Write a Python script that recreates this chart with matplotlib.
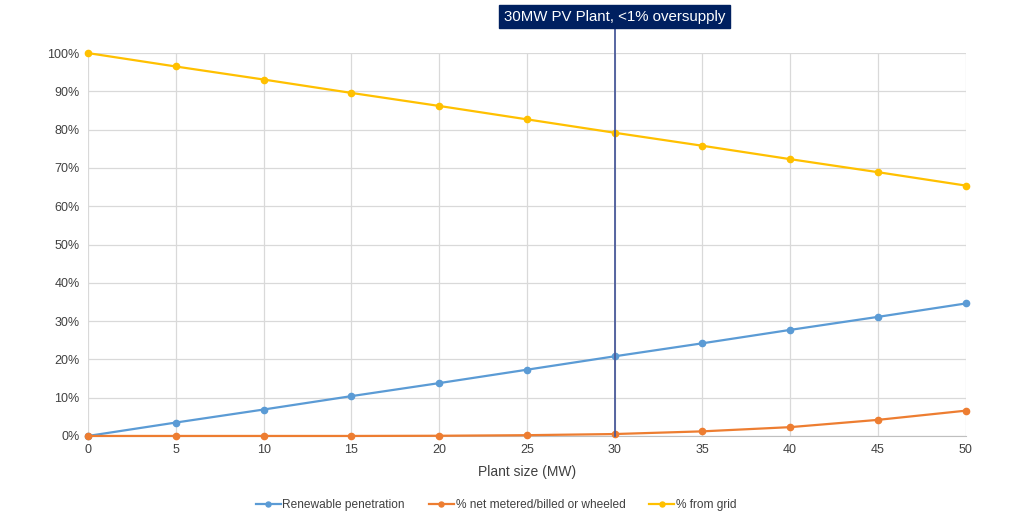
import matplotlib.pyplot as plt
from matplotlib.ticker import PercentFormatter

plt.rcParams['font.family'] = ['Liberation Sans', 'DejaVu Sans']

plant_size = [0, 5, 10, 15, 20, 25, 30, 35, 40, 45, 50]
renewable = [0.0, 3.5, 6.9, 10.4, 13.8, 17.3, 20.8, 24.2, 27.7, 31.1, 34.6]
net_metered = [0.0, 0.0, 0.0, 0.0, 0.05, 0.2, 0.5, 1.2, 2.3, 4.2, 6.6]
from_grid = [100.0, 96.5, 93.1, 89.6, 86.2, 82.7, 79.2, 75.8, 72.3, 68.9, 65.4]
marker_x = 30
marker_label = "30MW PV Plant, <1% oversupply"

fig = plt.figure(figsize=(10.24, 5.31), dpi=100)
ax = fig.add_axes([0.086, 0.179, 0.857, 0.721])

ax.plot(plant_size, renewable, color='#5b9bd5', lw=1.6, marker='o', ms=4.5,
        label='Renewable penetration', zorder=3, clip_on=False)
ax.plot(plant_size, net_metered, color='#ed7d31', lw=1.6, marker='o', ms=4.5,
        label='% net metered/billed or wheeled', zorder=3, clip_on=False)
ax.plot(plant_size, from_grid, color='#ffc000', lw=1.6, marker='o', ms=4.5,
        label='% from grid', zorder=3, clip_on=False)

# annotation line and label box
ax.plot([marker_x, marker_x], [0, 106.5], color='#4a5a9a', lw=1.3,
        clip_on=False, zorder=4)
ax.text(marker_x, 109.5, marker_label, ha='center', va='center', fontsize=10.8,
        color='white', zorder=5,
        bbox=dict(boxstyle='square,pad=0.3', fc='#002060', ec='#002060'))

ax.set_xlim(0, 50)
ax.set_ylim(0, 100)
ax.set_xticks(plant_size)
ax.set_yticks(range(0, 101, 10))
ax.yaxis.set_major_formatter(PercentFormatter(decimals=0))
ax.grid(True, color='#d9d9d9', lw=0.9)
ax.set_axisbelow(True)
for s in ['top', 'right', 'left']:
    ax.spines[s].set_visible(False)
ax.spines['bottom'].set_color('#bfbfbf')
ax.tick_params(length=0, labelsize=9, colors='#404040', pad=6)
ax.set_xlabel('Plant size (MW)', fontsize=10, color='#404040', labelpad=6)

ax.legend(loc='center', bbox_to_anchor=(0.465, -0.18), ncol=3, frameon=False,
          fontsize=8.6, labelcolor='#404040', handlelength=2.1, columnspacing=2.0,
          handletextpad=0.15, markerscale=0.8)

fig.savefig('out.png', dpi=100, facecolor='white')
